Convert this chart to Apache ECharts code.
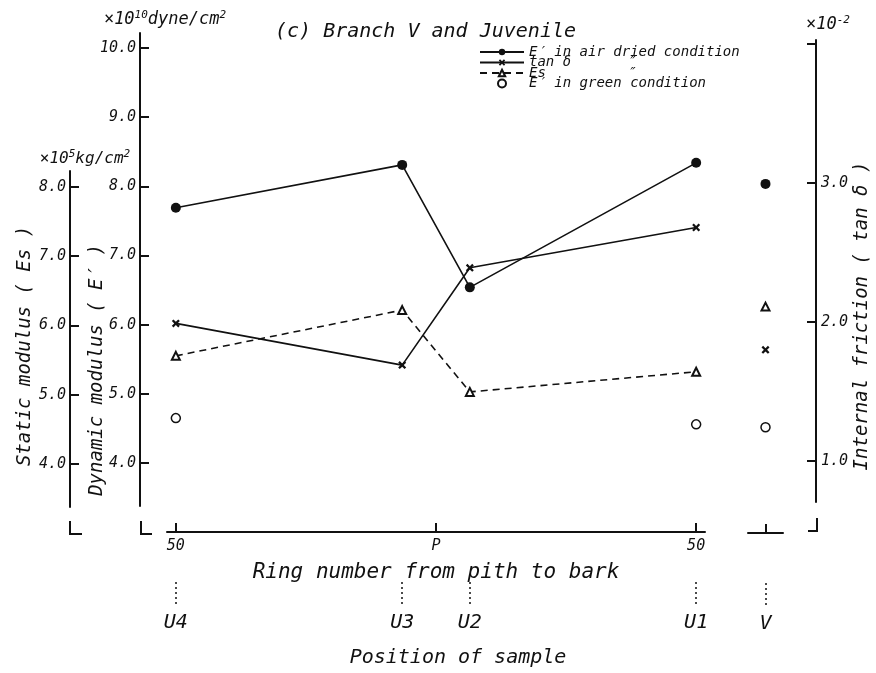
<!DOCTYPE html>
<html>
<head>
<meta charset="utf-8">
<title>(c) Branch V and Juvenile</title>
<script src="https://cdn.jsdelivr.net/npm/echarts@6/dist/echarts.min.js"></script>
<style>
  html, body { margin: 0; padding: 0; background: #fff; }
  #chart { width: 876px; height: 673px; }
</style>
</head>
<body>
<div id="chart"></div>
<script>
// sample positions on the ring-number axis (P = pith = 0)
const samples = ['U4', 'U3', 'U2', 'U1'];
const ringNo = [-50, -6.5, 6.5, 50];
const ringTicks = [-50, 0, 50];
const ringTickText = ['50', 'P', '50'];

// E' x10^10 dyne/cm2, tan delta x10^-2, Es x10^5 kg/cm2
const eAir = [7.69, 8.31, 6.54, 8.34];
const tanD = [1.99, 1.69, 2.39, 2.68];
const es = [5.56, 6.22, 5.04, 5.33];
const eGreen = [4.65, null, null, 4.56];

// branch V, on its own short axis
const branch = ['V'];
const vEAir = [8.04];
const vTanD = [1.80];
const vEs = [6.27];
const vEGreen = [4.53];

// tick values of the three y axes
const eTicks = [4, 5, 6, 7, 8, 9, 10];
const esTicks = [4, 5, 6, 7, 8];
const tanTicks = [1, 2, 3, 4];
const tanLabels = [1, 2, 3];

// lettering-guide look: monospaced oblique
const FONT = 'DejaVu Sans Mono';
const INK = '#111';
const txt = (size, extra) => Object.assign({fontFamily: FONT, fontStyle: 'italic', fontWeight: 'normal', fontSize: size, color: INK}, extra || {});
const axisLine = {show: true, onZero: false, lineStyle: {color: INK, width: 2}};
const tickStyle = {color: INK, width: 2};
const dotted = {color: INK, width: 1.5, type: [2, 3]};

// printed scales: E' and Es share one pixel scale, tan delta has its own
function span(top, bottom, refPx, refVal, perUnit) {
    return {min: refVal - (bottom - refPx) / perUnit, max: refVal + (refPx - top) / perUnit};
}
const eSpan = span(33, 507, 464, 4, 69.33);
const esSpan = span(171, 507, 464, 4, 69.33);
const tanSpan = span(40, 502, 461, 1, 139);
const tanSpanV = span(33, 507, 461, 1, 139);
const ringMin = -51.7, ringMax = 51.7;

const pairs = (xs, ys) => xs.map((x, i) => [x, ys[i]]).filter(p => p[1] != null);
const CROSS = 'path://M0,2L2,0L5,3L8,0L10,2L7,5L10,8L8,10L5,7L2,10L0,8L3,5Z';

const names = ['E′ in air dried condition', 'tan δ', 'Es', 'E′ in green condition'];
const sup = {s: txt(11, {verticalAlign: 'top', lineHeight: 10})};
const dot = {color: INK, opacity: 1};
const hollow = {color: '#fff', borderColor: INK, borderWidth: 1.5, opacity: 1};
const tri = {color: '#fff', borderColor: INK, borderWidth: 2, opacity: 1};

const hiddenY = (grid, s) => ({gridIndex: grid, type: 'value', show: false, min: s.min, max: s.max, axisLine: {onZero: false}, splitLine: {show: false}});
const hiddenX = grid => ({gridIndex: grid, type: 'value', show: false, min: ringMin, max: ringMax, axisLine: {onZero: false}, splitLine: {show: false}});
const vertTitle = (x, y, text) => ({
    type: 'text', x: x, y: y, rotation: Math.PI / 2,
    style: {text: text, fontFamily: FONT, fontStyle: 'italic', fontSize: 19, fill: INK, align: 'center', verticalAlign: 'middle'}
});

let option = {
    backgroundColor: '#fff',
    animation: false,
    title: {
        text: '(c) Branch V and Juvenile',
        left: 270, top: 17,
        textStyle: txt(20)
    },
    legend: {
        data: names,
        orient: 'vertical',
        left: 474, top: 40,
        itemWidth: 44, itemHeight: 8, itemGap: -3.5,
        selectedMode: false,
        textStyle: txt(14, {lineHeight: 14, rich: {n: txt(14, {width: 98, lineHeight: 14}), d: txt(14, {lineHeight: 14})}}),
        formatter: function (name) {
            if (name === 'tan δ' || name === 'Es') return '{n|' + name + '}{d|″}';
            return name;
        }
    },
    grid: [
        {left: 167, right: 171, top: 33, bottom: 166},   // E'
        {left: 167, right: 171, top: 171, bottom: 166},  // Es
        {left: 167, right: 171, top: 40, bottom: 171},   // tan delta
        {left: 748, right: 93, top: 33, bottom: 166}     // branch V
    ],
    xAxis: [
        {
            gridIndex: 0, type: 'value', position: 'bottom', offset: 26, min: ringMin, max: ringMax,
            axisLine: axisLine,
            axisTick: {show: true, inside: true, length: 9, customValues: ringTicks, lineStyle: tickStyle},
            axisLabel: Object.assign(txt(15), {customValues: ringTicks, margin: 7,
                formatter: v => ringTickText[ringTicks.indexOf(v)]}),
            splitLine: {show: false},
            name: 'Ring number from pith to bark', nameLocation: 'middle', nameGap: 30,
            nameTextStyle: txt(21)
        },
        {
            gridIndex: 0, type: 'value', position: 'bottom', offset: 76, min: ringMin, max: ringMax,
            axisLine: {show: false, onZero: false},
            axisTick: {show: true, length: 24, customValues: ringNo, lineStyle: dotted},
            axisLabel: Object.assign(txt(20), {customValues: ringNo, margin: 31,
                formatter: v => samples[ringNo.indexOf(v)]}),
            splitLine: {show: false},
            name: 'Position of sample', nameLocation: 'middle', nameGap: 66,
            nameTextStyle: txt(20, {padding: [0, 0, 0, 44]})
        },
        hiddenX(1),
        hiddenX(2),
        {
            gridIndex: 3, type: 'category', data: branch, position: 'bottom', offset: 26,
            axisLine: axisLine,
            axisTick: {show: true, inside: true, length: 9, alignWithLabel: true, lineStyle: tickStyle},
            axisLabel: {show: false}
        },
        {
            gridIndex: 3, type: 'category', data: branch, position: 'bottom', offset: 76,
            axisLine: {show: false},
            axisTick: {show: true, length: 24, alignWithLabel: true, lineStyle: dotted},
            axisLabel: Object.assign(txt(20), {margin: 31})
        }
    ],
    yAxis: [
        {
            gridIndex: 0, type: 'value', position: 'left', offset: 27, min: eSpan.min, max: eSpan.max,
            axisLine: axisLine,
            axisTick: {show: true, inside: true, length: 9, customValues: eTicks, lineStyle: tickStyle},
            axisLabel: Object.assign(txt(15), {customValues: eTicks, margin: 4, formatter: v => v.toFixed(1)}),
            splitLine: {show: false},
            name: '×10{s|10}dyne/cm{s|2}', nameLocation: 'end', nameGap: 3,
            nameTextStyle: txt(17, {padding: [0, 0, 0, 50], lineHeight: 20, rich: sup})
        },
        {
            gridIndex: 1, type: 'value', position: 'left', offset: 97, min: esSpan.min, max: esSpan.max,
            axisLine: axisLine,
            axisTick: {show: true, inside: true, length: 9, customValues: esTicks, lineStyle: tickStyle},
            axisLabel: Object.assign(txt(15), {customValues: esTicks, margin: 4, formatter: v => v.toFixed(1)}),
            splitLine: {show: false},
            name: '×10{s|5}kg/cm{s|2}', nameLocation: 'end', nameGap: 2,
            nameTextStyle: txt(16, {padding: [0, 0, 0, 30], lineHeight: 20, rich: sup})
        },
        {
            gridIndex: 2, type: 'value', position: 'right', offset: 111, min: tanSpan.min, max: tanSpan.max,
            axisLine: axisLine,
            axisTick: {show: true, inside: true, length: 9, customValues: tanTicks, lineStyle: tickStyle},
            axisLabel: Object.assign(txt(15), {customValues: tanLabels, margin: 5, formatter: v => v.toFixed(1)}),
            splitLine: {show: false},
            name: '×10{s|-2}', nameLocation: 'end', nameGap: 5,
            nameTextStyle: txt(17, {padding: [0, 0, 0, 24], lineHeight: 20, rich: sup})
        },
        hiddenY(3, eSpan),
        hiddenY(3, eSpan),     // Es shares the E' pixel scale
        hiddenY(3, tanSpanV)
    ],
    series: [
        {
            name: names[0], type: 'line', xAxisIndex: 0, yAxisIndex: 0,
            data: pairs(ringNo, eAir),
            symbol: 'circle', symbolSize: 10,
            itemStyle: dot, lineStyle: {color: INK, width: 1.6}
        },
        {
            name: names[1], type: 'line', xAxisIndex: 3, yAxisIndex: 2,
            data: pairs(ringNo, tanD),
            symbol: CROSS, symbolSize: 8,
            itemStyle: dot, lineStyle: {color: INK, width: 1.6}
        },
        {
            name: names[2], type: 'line', xAxisIndex: 2, yAxisIndex: 1,
            data: pairs(ringNo, es),
            symbol: 'triangle', symbolSize: 8,
            itemStyle: tri,
            lineStyle: {color: INK, width: 1.6, type: [7, 5]}
        },
        {
            name: names[3], type: 'scatter', xAxisIndex: 0, yAxisIndex: 0,
            data: pairs(ringNo, eGreen),
            symbol: 'circle', symbolSize: 9,
            itemStyle: hollow
        },
        // branch V points
        {
            name: names[0], type: 'scatter', xAxisIndex: 4, yAxisIndex: 3,
            data: pairs(branch, vEAir), symbol: 'circle', symbolSize: 10,
            itemStyle: dot
        },
        {
            name: names[1], type: 'scatter', xAxisIndex: 4, yAxisIndex: 5,
            data: pairs(branch, vTanD), symbol: CROSS, symbolSize: 8,
            itemStyle: dot
        },
        {
            name: names[2], type: 'scatter', xAxisIndex: 4, yAxisIndex: 4,
            data: pairs(branch, vEs), symbol: 'triangle', symbolSize: 8,
            itemStyle: tri
        },
        {
            name: names[3], type: 'scatter', xAxisIndex: 4, yAxisIndex: 3,
            data: pairs(branch, vEGreen), symbol: 'circle', symbolSize: 9,
            itemStyle: hollow
        }
    ],
    graphic: [
        // broken-axis corners under the three y axes
        {type: 'polyline', shape: {points: [[70, 521], [70, 534], [82, 534]]}, style: {stroke: INK, lineWidth: 2, fill: null}},
        {type: 'polyline', shape: {points: [[141, 521], [141, 534], [152, 534]]}, style: {stroke: INK, lineWidth: 2, fill: null}},
        {type: 'polyline', shape: {points: [[808, 531], [817, 531], [817, 518]]}, style: {stroke: INK, lineWidth: 2, fill: null}},
        // axis titles
        vertTitle(25, 346, 'Static modulus ( Es )'),
        vertTitle(97, 370, 'Dynamic modulus ( E′ )'),
        vertTitle(862, 316, 'Internal friction ( tan δ )')
    ]
};

let myChart = echarts.init(document.getElementById('chart'));
myChart.setOption(option);
</script>
</body>
</html>
